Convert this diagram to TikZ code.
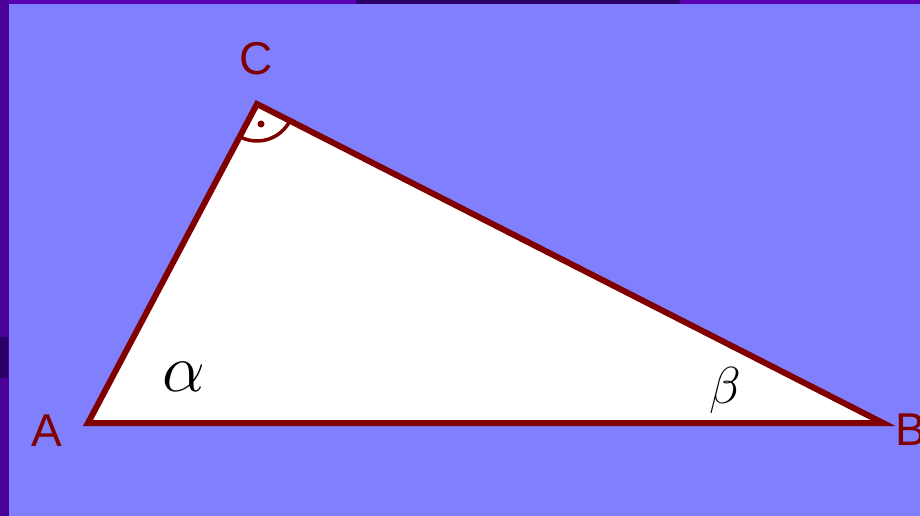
\RequirePackage{fix-cm}
\documentclass[tikz,border=0pt]{standalone}
\usepackage{fontspec}
\setsansfont{Liberation Sans}
\usetikzlibrary{calc}
\definecolor{bg}{HTML}{8080FF}
\definecolor{dred}{HTML}{800000}
\definecolor{strip}{HTML}{4B0096}
\definecolor{topband}{HTML}{5A00B4}
\definecolor{darkband}{HTML}{2A0066}
\begin{document}
\begin{tikzpicture}[x=1pt,y=-1pt,
  edge/.style={draw=dred,line width=6pt,line join=miter,fill=white},
  rmark/.style={draw=dred,line width=3.5pt},
  vlabel/.style={text=dred,font=\sffamily\fontsize{46}{46}\selectfont,inner sep=0pt},
  anglabel/.style={text=black,inner sep=0pt}]
\useasboundingbox (0,0) rectangle (920,516);
\fill[bg] (0,0) rectangle (920,516);
\fill[topband] (0,0) rectangle (920,4);
\fill[darkband] (356,0) rectangle (680,4);
\fill[strip] (0,0) rectangle (9,516);
\fill[darkband] (0,337) rectangle (8,378);
\coordinate (A) at (88,423);
\coordinate (B) at (883,423);
\coordinate (C) at (257,104);
\path[edge] (A) -- (B) -- (C) -- cycle;
\draw[rmark] ($(C)+(117.9:37)$) arc[start angle=117.9,end angle=27,radius=37];
\fill[dred] (261,124) circle[radius=3.5];
\node[vlabel] (lC) at (256,59) {C};
\node[vlabel] (lA) at (47,431) {A};
\node[vlabel] (lB) at (911,430) {B};
\node[anglabel,font=\fontsize{68}{68}\selectfont] (alpha) at (184,377) {$\alpha$};
\node[anglabel,font=\fontsize{52}{52}\selectfont] (beta) at (725,390) {$\beta$};
\end{tikzpicture}
\end{document}
